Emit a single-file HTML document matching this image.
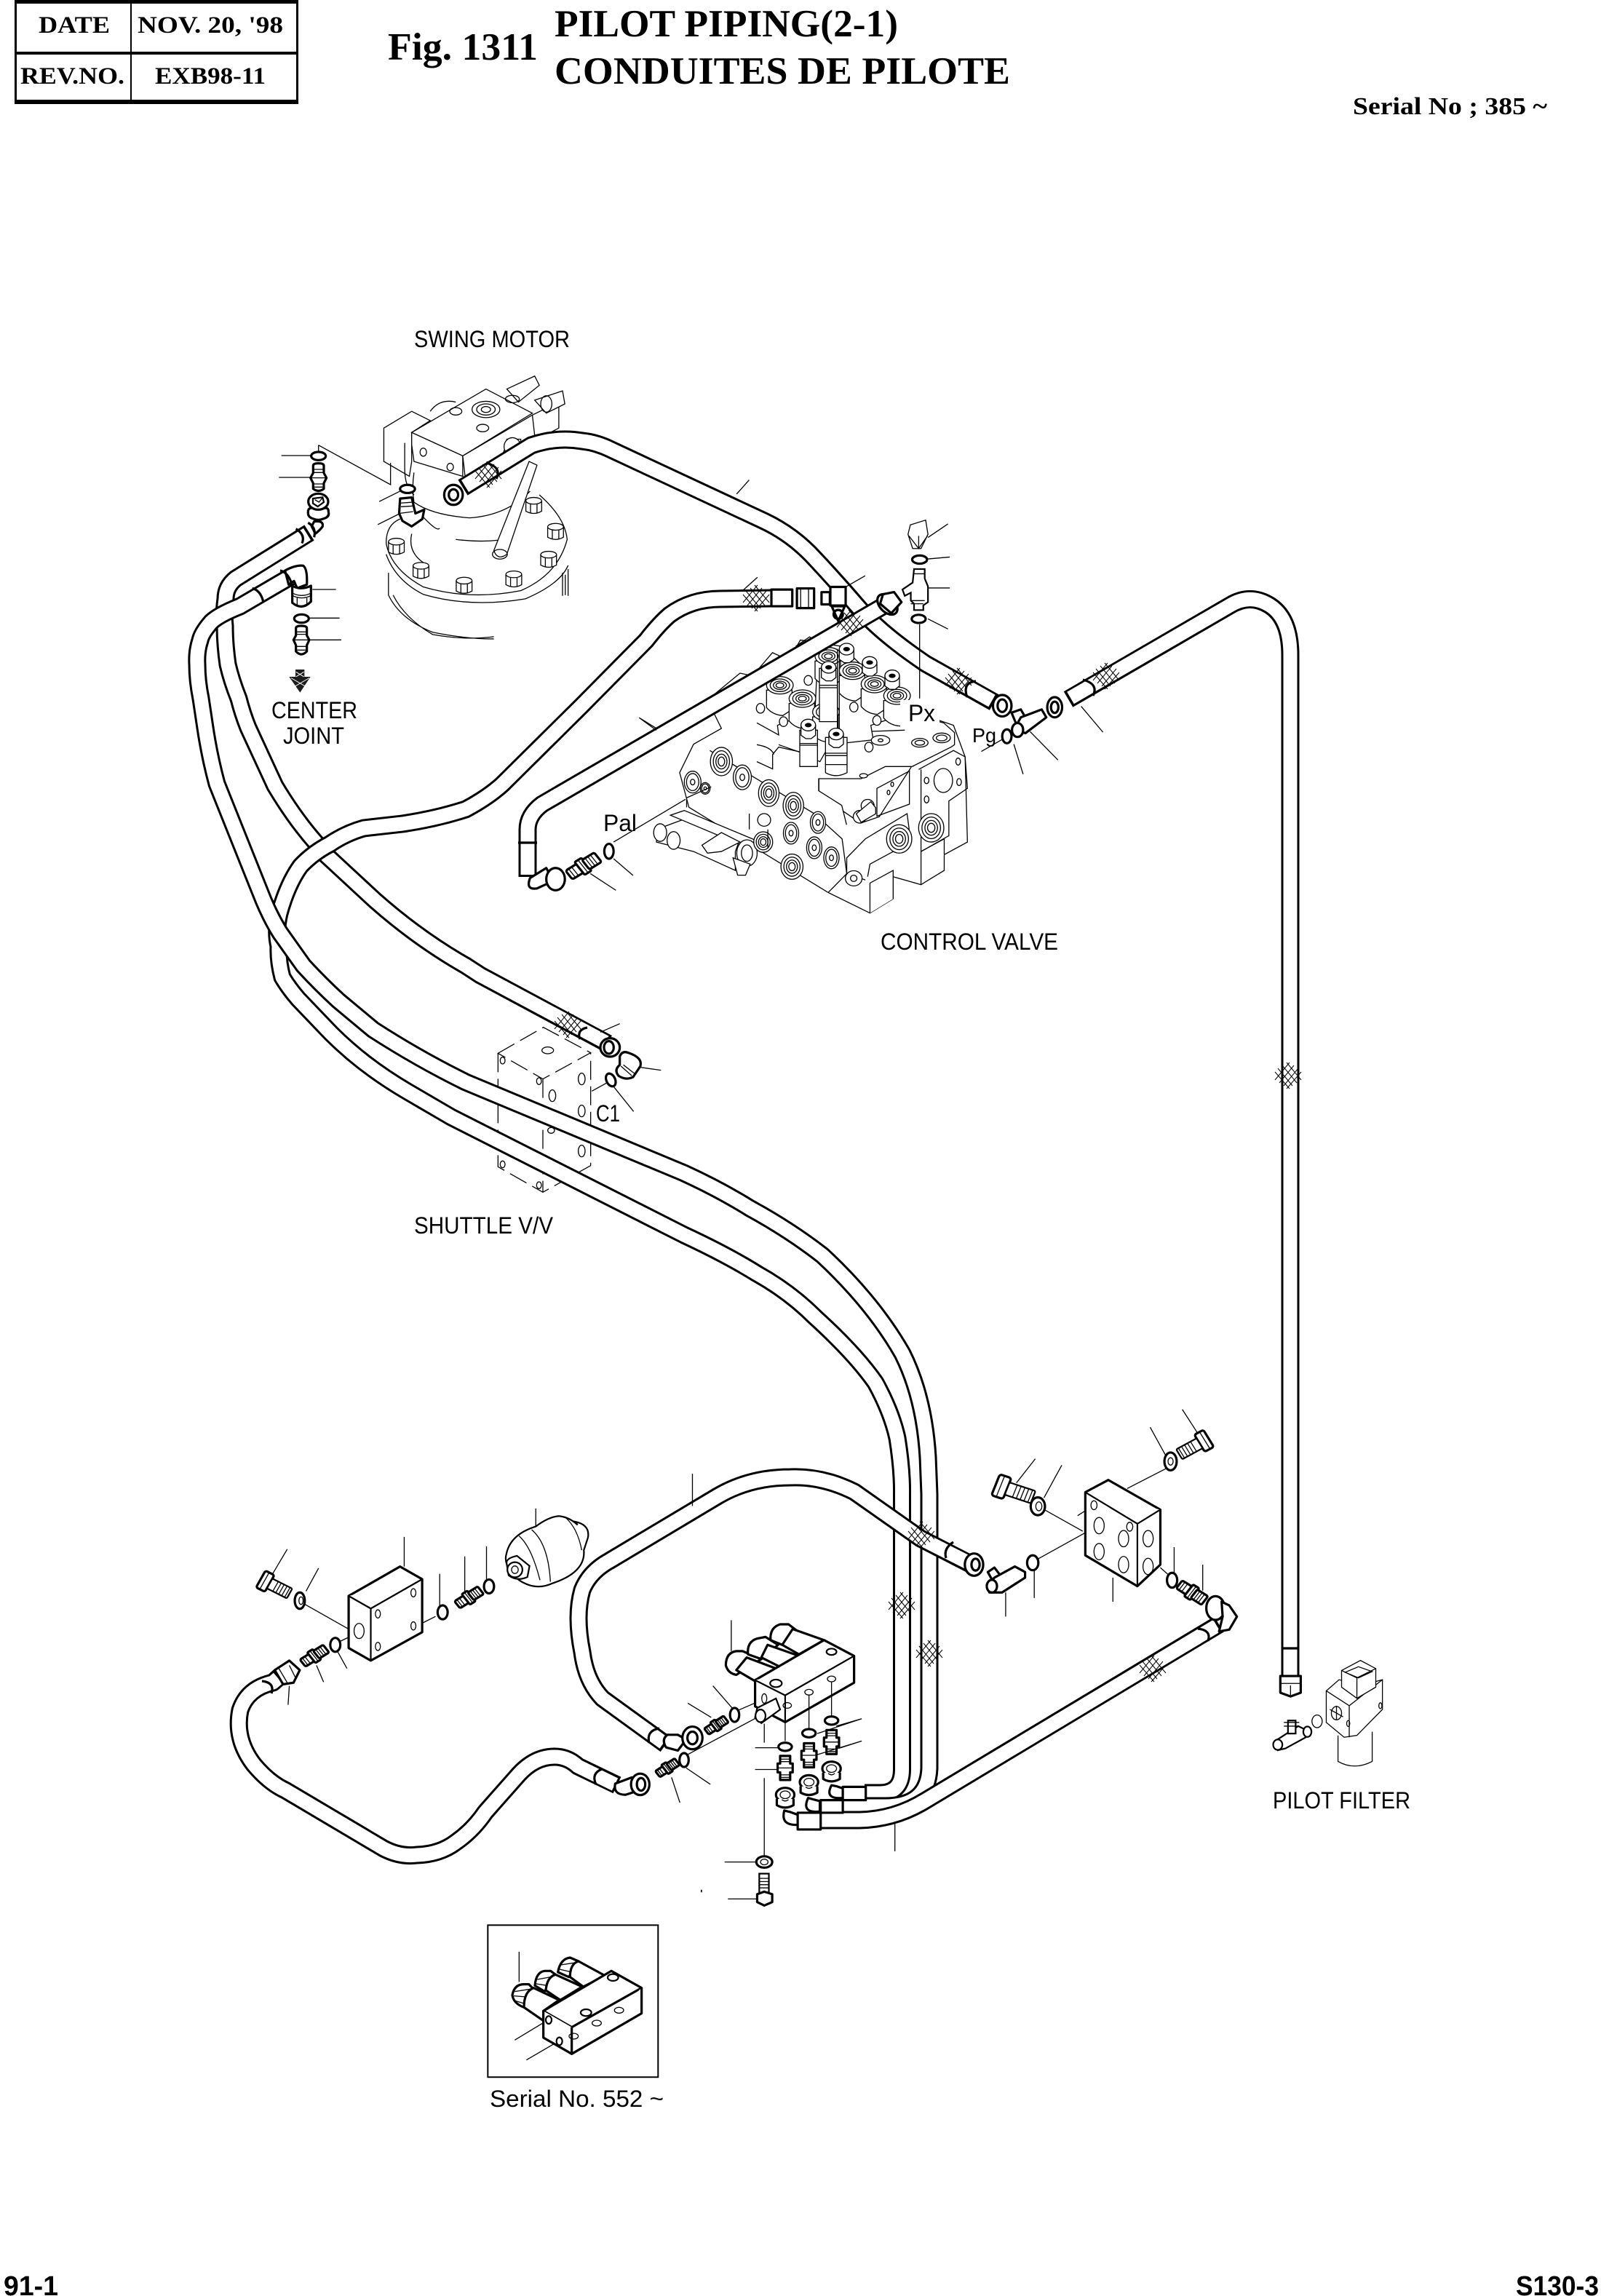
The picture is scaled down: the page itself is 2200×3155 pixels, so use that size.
<!DOCTYPE html>
<html><head><meta charset="utf-8"><title>Fig. 1311 Pilot Piping</title>
<style>
html,body{margin:0;padding:0;background:#fff}
svg{display:block}
svg *{vector-effect:non-scaling-stroke}
.t{fill:none;stroke:#000;stroke-width:1.3}
.tw{fill:#fff;stroke:#000;stroke-width:1.3}
.m{fill:#fff;stroke:#000;stroke-width:2.2}
.b{fill:#fff;stroke:#000;stroke-width:3.2;stroke-linejoin:round}
.bn{fill:none;stroke:#000;stroke-width:3.2;stroke-linejoin:round}
.ho{fill:none;stroke:#000;stroke-width:25;stroke-linejoin:round}
.hi{fill:none;stroke:#fff;stroke-width:19;stroke-linejoin:round}
.x{fill:none;stroke:#000;stroke-width:1}
.d{fill:none;stroke:#000;stroke-width:1.3;stroke-dasharray:26 9}
text{fill:#000}
.s{font-family:"Liberation Sans",sans-serif;font-size:32px}
.r{font-family:"Liberation Serif",serif;font-weight:bold}
.k{font-family:"Liberation Sans",sans-serif;font-weight:bold;font-size:38px}
</style></head><body>
<svg xmlns="http://www.w3.org/2000/svg" width="2200" height="3155" viewBox="0 0 2200 3155">
<defs>
<g id="hatch"><path class="x" d="M-14 -10L6 14M-8 -14L12 10M-2 -18L18 6M-18 -5L2 18M14 -10L-6 14M8 -14L-12 10M2 -18L-18 6M18 -5L-2 18"/></g>
<g id="bolt"><path class="tw" d="M-17 -14V14Q0 26 17 14V-14"/><ellipse class="tw" cy="-14" rx="17" ry="9"/><path class="t" d="M-7 -6V20M7 -6V20"/></g>
<g id="sol"><path class="tw" d="M-55 20V92Q-30 122 12 125L50 100V20Z"/><ellipse class="tw" rx="55" ry="36"/><ellipse class="t" rx="40" ry="26"/><ellipse class="t" rx="27" ry="17"/><ellipse class="t" rx="16" ry="10"/></g>
<g id="cap"><path class="tw" d="M-30 -14V28L-10 42H12L30 28V-14Z"/><ellipse class="tw" cy="-14" rx="30" ry="24"/><ellipse cy="-14" rx="14" ry="9"/></g>
<g id="port"><ellipse class="tw" rx="34" ry="50"/><ellipse class="t" rx="25" ry="38"/><ellipse class="t" rx="17" ry="26"/><ellipse class="t" rx="10" ry="16"/></g>
<g id="plug"><ellipse class="tw" rx="30" ry="46"/><ellipse class="t" rx="22" ry="36"/><ellipse class="t" rx="8" ry="12"/></g>
<g id="nip"><path class="b" d="M-12 -38H12V-14H18V14H12V38H-12V14H-18V-14H-12Z"/><path class="t" d="M-12 -28H12M-12 -20H12M-12 22H12M-12 30H12M-18 0H18"/></g>
<g id="nipr"><g transform="rotate(-35)"><rect class="b" x="-38" y="-13" width="30" height="26" rx="5"/><rect class="b" x="-10" y="-19" width="18" height="38" rx="3"/><rect class="b" x="6" y="-14" width="32" height="28" rx="4"/><path class="t" d="M14 -14V14M21 -14V14M28 -14V14M-30 -13V13M-22 -13V13M-1 -19V19"/></g></g>
<g id="bolt2"><rect class="b" x="-40" y="-24" width="24" height="48" rx="5"/><rect class="m" x="-16" y="-14" width="54" height="28" rx="3"/><path class="t" d="M-30 -24V24M0 -14V14M8 -14V14M16 -14V14M24 -14V14M32 -14V14"/></g>
<g id="nut"><ellipse class="b" rx="22" ry="20"/><ellipse class="t" rx="12" ry="11"/><path class="b" d="M-20 12V30Q0 44 20 30V12" /><path class="t" d="M-8 14Q0 22 8 14"/></g>
</defs>

<!-- ===== HEADER ===== -->
<rect x="20" y="0" width="390" height="5"/>
<rect x="20" y="71" width="390" height="4"/>
<rect x="20" y="137" width="390" height="6"/>
<rect x="20" y="0" width="3" height="143"/>
<rect x="407" y="0" width="3" height="143"/>
<rect x="179" y="0" width="2" height="143"/>
<text class="r" x="53" y="45" font-size="33" textLength="98" lengthAdjust="spacingAndGlyphs">DATE</text>
<text class="r" x="189" y="45" font-size="33" textLength="200" lengthAdjust="spacingAndGlyphs">NOV. 20, '98</text>
<text class="r" x="28" y="115" font-size="33" textLength="143" lengthAdjust="spacingAndGlyphs">REV.NO.</text>
<text class="r" x="213" y="115" font-size="33" textLength="152" lengthAdjust="spacingAndGlyphs">EXB98-11</text>
<text class="r" x="533" y="82" font-size="53" textLength="206" lengthAdjust="spacingAndGlyphs">Fig. 1311</text>
<text class="r" x="762" y="50" font-size="53" textLength="472" lengthAdjust="spacingAndGlyphs">PILOT PIPING(2-1)</text>
<text class="r" x="762" y="115" font-size="53" textLength="626" lengthAdjust="spacingAndGlyphs">CONDUITES DE PILOTE</text>
<text class="r" x="1859" y="157" font-size="34" textLength="267" lengthAdjust="spacingAndGlyphs">Serial No ; 385 ~</text>

<!-- ===== SWING MOTOR ===== -->
<g transform="translate(250 430) scale(.6378 .5102)">
<path class="t" d="M440 620Q450 690 520 738Q620 775 730 748Q810 705 830 610Q825 550 770 490"/>
<path class="t" d="M440 650Q460 720 520 758Q620 795 740 770Q815 730 832 680"/>
<path class="t" d="M440 620Q440 570 470 555"/>
<path class="t" d="M445 700V760Q470 825 540 860Q610 878 672 878M455 760Q480 822 540 866Q610 882 672 872"/>
<path class="t" d="M820 700V762M832 690V762M826 705V760"/>
<path class="t" d="M495 595Q485 650 530 680M590 610Q640 618 682 612M520 550Q550 590 555 580"/>
<path class="t" d="M500 510Q540 545 620 552Q700 545 750 480M500 430Q495 470 500 510"/>
<path class="tw" d="M435 310L495 265L535 290L495 322V400L490 440L435 400Z"/>
<path class="t" d="M535 265Q555 230 590 240M480 350V420Q480 470 500 490"/>
<path class="tw" d="M495 322L655 205L755 270L605 385Z"/>
<path class="tw" d="M495 322V355L500 400L605 440L605 385Z"/>
<path class="tw" d="M605 385L755 275L760 330L610 440Z"/>
<path class="t" d="M620 440Q690 430 700 340L730 340Q730 400 690 420M755 275L812 240V310L760 345"/>
<ellipse class="t" cx="520" cy="375" rx="7" ry="11"/><ellipse class="t" cx="578" cy="415" rx="7" ry="10"/>
<ellipse class="t" cx="590" cy="265" rx="13" ry="10"/><ellipse class="t" cx="648" cy="310" rx="13" ry="10"/>
<ellipse class="tw" cx="655" cy="260" rx="30" ry="22"/><ellipse class="t" cx="655" cy="260" rx="20" ry="15"/><ellipse class="t" cx="655" cy="260" rx="10" ry="8"/>
<ellipse class="tw" cx="712" cy="360" rx="18" ry="24"/>
<path class="tw" d="M700 205L760 170L770 195L725 240ZM760 235L820 210L825 245L785 270Z"/>
<ellipse class="t" cx="712" cy="232" rx="15" ry="10"/><ellipse class="t" cx="785" cy="245" rx="12" ry="22"/>
<path class="tw" d="M748 400L672 640Q680 668 700 650L765 410Z"/><ellipse class="t" cx="685" cy="650" rx="16" ry="13"/>
<use href="#bolt" transform="translate(758 520)"/>
<use href="#bolt" transform="translate(805 590)"/>
<use href="#bolt" transform="translate(790 665)"/>
<use href="#bolt" transform="translate(715 718)"/>
<use href="#bolt" transform="translate(608 735)"/>
<use href="#bolt" transform="translate(515 695)"/>
<use href="#bolt" transform="translate(462 630)"/>
<path class="t" d="M425 508L470 480M422 570L470 540"/>
</g>

<!-- ===== CONTROL VALVE ===== -->
<g transform="translate(800 680) scale(.6378 .4337)">
<path class="tw" d="M270 650L340 565L420 590L470 460L560 480L700 680L800 730L825 830L830 1100L780 1140V1190L730 1235L670 1210V1280L620 1325L530 1260L230 990L210 880L240 790L300 740Z"/>
<path class="tw" d="M730 1235V1130L780 1090V1140"/>
<path class="tw" d="M620 1325V1230L670 1190V1280"/>
<path class="t" d="M530 1260L570 1200L610 1220M570 1200V1150L610 1090L700 1010L708 1100L620 1170L615 1210"/>
<path class="t" d="M275 810L500 1010L560 1090L570 1200M510 870L510 950L570 1010L600 1040L640 1020L710 860L640 800L510 870"/>
<path class="t" d="M725 870L800 810L825 830L830 930L790 970V1080L730 1130V870M640 800L715 860"/>
<ellipse class="t" cx="778" cy="905" rx="20" ry="38"/>
<ellipse class="t" cx="742" cy="905" rx="5" ry="10"/><ellipse class="t" cx="812" cy="910" rx="5" ry="11"/><ellipse class="t" cx="810" cy="845" rx="5" ry="11"/><ellipse class="t" cx="742" cy="965" rx="5" ry="11"/>
<ellipse class="t" cx="668" cy="917" rx="3" ry="7"/><ellipse class="t" cx="660" cy="943" rx="3" ry="7"/>
<path class="t" d="M635 930L705 875V980L635 1018Z"/>
<use href="#port" transform="translate(300 845) scale(.7 .9)"/>
<use href="#plug" transform="translate(345 895) scale(.65 .85)"/>
<use href="#port" transform="translate(402 945) scale(.65 .85)"/>
<use href="#port" transform="translate(455 985) scale(.65 .85)"/>
<use href="#plug" transform="translate(508 1038) scale(.55 .75)"/>
<use href="#plug" transform="translate(450 1072) scale(.55 .75)"/>
<use href="#plug" transform="translate(500 1118) scale(.55 .75)"/>
<use href="#plug" transform="translate(537 1150) scale(.55 .75)"/>
<use href="#port" transform="translate(452 1178) scale(.7 .8)"/>
<use href="#port" transform="translate(683 1090) scale(.8 .9)"/>
<use href="#port" transform="translate(752 1055) scale(.8 .9)"/>
<use href="#plug" transform="translate(238 910) scale(.6 .75)"/>
<use href="#plug" transform="translate(265 930) scale(.35 .4)"/>
<path class="t" d="M225 965V990M225 960L278 925"/>
<path class="tw" d="M215 1030L160 1060V1100L240 1130L330 1190V1130L340 1090L300 1060Z" />
<path class="tw" d="M190 1015L360 1120L375 1095L220 1000Z"/>
<ellipse class="tw" cx="168" cy="1070" rx="14" ry="28"/><ellipse class="tw" cx="197" cy="1095" rx="14" ry="28"/>
<path class="tw" d="M258 1110L300 1070L340 1100L300 1130L270 1135Z"/>
<ellipse class="tw" cx="355" cy="1135" rx="22" ry="42"/><ellipse class="t" cx="355" cy="1135" rx="12" ry="26"/>
<path class="tw" d="M325 1150L335 1205L352 1205L362 1170Z"/>
<use href="#port" transform="translate(390 1100) scale(.6 .65)"/>
<ellipse class="tw" cx="392" cy="1030" rx="14" ry="20"/>
<path class="t" d="M360 1010V1060M400 1060V1120"/>
<ellipse class="tw" cx="598" cy="1020" rx="14" ry="20"/><ellipse class="tw" cx="615" cy="985" rx="14" ry="20"/>
<ellipse class="tw" cx="585" cy="1215" rx="18" ry="24"/><ellipse class="t" cx="585" cy="1215" rx="7" ry="10"/>
<path class="t" d="M375 560L410 500L425 510L395 555M460 480L490 450L500 460"/>
</g>
<g transform="translate(1040 880) scale(.3333)">
<path class="tw" d="M0 500L65 530V470L90 440L180 460L260 500L300 430L480 410L470 350L620 300L770 340L815 380L815 430L800 440L640 520L530 520L430 570L255 570V620L350 680L370 760"/>
<path class="t" d="M0 340L90 390L85 350L240 290L250 80L300 50L380 100L520 240M475 375L610 370M0 430Q60 440 70 470M90 430L175 460"/>
<use href="#sol" transform="translate(295 65)"/>
<use href="#sol" transform="translate(395 125)"/>
<use href="#sol" transform="translate(485 180)"/>
<use href="#sol" transform="translate(578 228)"/>
<use href="#sol" transform="translate(95 185)"/>
<use href="#sol" transform="translate(188 240)"/>
<use href="#sol" transform="translate(285 295)"/>
<use href="#cap" transform="translate(370 50)"/>
<use href="#cap" transform="translate(465 105)"/>
<use href="#cap" transform="translate(558 160)"/>
<path class="tw" d="M258 115V335H332V115Z"/>
<use href="#cap" transform="translate(296 125)"/>
<path class="t" d="M258 185H332M258 195H332M332 35V370M340 35V370"/>
<path class="tw" d="M177 370V520H250V370Z"/><use href="#cap" transform="translate(212 363)"/>
<path class="t" d="M177 425H250M177 432H250"/>
<path class="tw" d="M283 400V545Q325 570 372 545V400Z"/><use href="#cap" transform="translate(327 400)"/>
<path class="t" d="M283 465H372M283 475H372M283 512H372"/>
<ellipse class="tw" cx="510" cy="412" rx="38" ry="20"/><ellipse class="t" cx="510" cy="412" rx="10" ry="6"/>
<ellipse class="tw" cx="672" cy="422" rx="34" ry="18"/><ellipse class="t" cx="672" cy="422" rx="20" ry="10"/>
<ellipse class="tw" cx="762" cy="402" rx="36" ry="20"/><ellipse class="t" cx="762" cy="402" rx="22" ry="12"/>
<ellipse class="tw" cx="110" cy="335" rx="17" ry="20"/><ellipse class="tw" cx="212" cy="165" rx="17" ry="20"/>
<ellipse class="tw" cx="400" cy="275" rx="17" ry="20"/><ellipse class="tw" cx="495" cy="330" rx="17" ry="20"/>
<ellipse class="tw" cx="462" cy="440" rx="17" ry="20"/><ellipse class="tw" cx="15" cy="280" rx="17" ry="20"/>
<ellipse class="tw" cx="440" cy="558" rx="16" ry="9"/>
<path class="tw" d="M410 715L470 665L490 690V715L430 750Z"/>
</g>
<rect x="1237" y="962" width="54" height="40" fill="#fff"/>

<!-- ===== SHUTTLE V/V (dashed) ===== -->
<g transform="translate(620 1340) scale(.3333)">
<path class="d" d="M193 322L380 215L575 320L378 428ZM193 322V790L378 895L575 785V320M378 428V895"/>
<ellipse class="t" cx="398" cy="310" rx="24" ry="14"/>
<ellipse class="t" cx="212" cy="352" rx="10" ry="14"/><ellipse class="t" cx="362" cy="437" rx="10" ry="14"/>
<ellipse class="t" cx="538" cy="428" rx="14" ry="24"/><ellipse class="t" cx="417" cy="497" rx="14" ry="24"/>
<ellipse class="t" cx="538" cy="560" rx="14" ry="24"/><ellipse class="t" cx="538" cy="725" rx="14" ry="24"/>
<ellipse class="t" cx="412" cy="640" rx="14" ry="12"/>
<ellipse class="t" cx="212" cy="780" rx="10" ry="14"/><ellipse class="t" cx="362" cy="866" rx="10" ry="14"/>
</g>

<!-- ===== HOSES ===== -->
<g id="hoses">
<path class="ho" d="M425 732L324 795Q310 806 310 823Q307 845 309 860Q309 885 313 913Q318 935 328 960Q333 980 341 1000L378 1080Q405 1125 434 1158Q440 1165 447 1174L515 1237Q575 1290 640 1327L660 1340L835 1434"/>
<path class="hi" d="M422 734L324 795Q310 806 310 823Q307 845 309 860Q309 885 313 913Q318 935 328 960Q333 980 341 1000L378 1080Q405 1125 434 1158Q440 1165 447 1174L515 1237Q575 1290 640 1327L660 1340L832 1432"/>
<path class="ho" d="M1060 822L990 823Q950 823 920 845Q905 858 888 880L798 971L690 1078Q670 1096 640 1112Q600 1125 553 1132L500 1138Q475 1145 453 1160Q430 1172 413 1190Q395 1215 384 1255Q378 1280 383 1300Q382 1320 388 1343Q397 1358 410 1373L455 1420Q500 1465 560 1500L620 1535L940 1697Q1000 1725 1040 1750Q1085 1775 1120 1810Q1175 1860 1203 1900Q1225 1940 1233 1976Q1240 2020 1239.5 2053L1239.5 2430Q1240 2464 1209 2464L1188 2464"/>
<path class="hi" d="M1060 822L990 823Q950 823 920 845Q905 858 888 880L798 971L690 1078Q670 1096 640 1112Q600 1125 553 1132L500 1138Q475 1145 453 1160Q430 1172 413 1190Q395 1215 384 1255Q378 1280 383 1300Q382 1320 388 1343Q397 1358 410 1373L455 1420Q500 1465 560 1500L620 1535L940 1697Q1000 1725 1040 1750Q1085 1775 1120 1810Q1175 1860 1203 1900Q1225 1940 1233 1976Q1240 2020 1239.5 2053L1239.5 2430Q1240 2464 1209 2464L1188 2464"/>
<path class="ho" d="M400 792L330 833Q300 845 290 855Q277 870 275 880Q270 895 271 913Q271 935 276 960L282 1000Q288 1040 298 1077L358 1227Q370 1258 385 1282L417 1327Q440 1352 465 1375L513 1415Q575 1455 640 1487L940 1612Q990 1635 1030 1660Q1085 1690 1130 1725Q1200 1790 1240 1860Q1270 1920 1275 2002L1277 2053L1277 2430Q1275 2482 1216 2482L1160 2482"/>
<path class="hi" d="M400 792L330 833Q300 845 290 855Q277 870 275 880Q270 895 271 913Q271 935 276 960L282 1000Q288 1040 298 1077L358 1227Q370 1258 385 1282L417 1327Q440 1352 465 1375L513 1415Q575 1455 640 1487L940 1612Q990 1635 1030 1660Q1085 1690 1130 1725Q1200 1790 1240 1860Q1270 1920 1275 2002L1277 2053L1277 2430Q1275 2482 1216 2482L1160 2482"/>
<path class="ho" d="M636 670L730 612Q765 600 800 606Q820 608 840 618L1050 716Q1090 735 1120 768Q1150 800 1180 835Q1210 870 1272 912L1366 965"/>
<path class="hi" d="M639 668L730 612Q765 600 800 606Q820 608 840 618L1050 716Q1090 735 1120 768Q1150 800 1180 835Q1210 870 1272 912L1363 963"/>
<path class="ho" d="M1215 832L745 1105Q725 1120 725 1140L725 1205"/>
<path class="hi" d="M1215 832L745 1105Q725 1120 725 1140L725 1202"/>
<path class="ho" d="M1468 961L1690 832Q1718 815 1745 832Q1773 850 1773 900L1773 2305"/>
<path class="hi" d="M1471 959L1690 832Q1718 815 1745 832Q1773 850 1773 900L1773 2305"/>
<path class="ho" d="M1128 2501L1181 2501Q1230 2500 1272 2474L1675 2232"/>
<path class="hi" d="M1128 2501L1181 2501Q1230 2500 1272 2474L1672 2234"/>
<path class="ho" d="M915 2397L828 2334Q805 2310 800 2270Q790 2220 800 2185Q810 2160 837 2145L986 2056Q1030 2030 1086 2030Q1130 2028 1174 2050L1265 2114L1335 2150"/>
<path class="hi" d="M912 2395L828 2334Q805 2310 800 2270Q790 2220 800 2185Q810 2160 837 2145L986 2056Q1030 2030 1086 2030Q1130 2028 1174 2050L1265 2114L1332 2148"/>
<path class="ho" d="M385 2303L375 2312Q340 2320 330 2350Q322 2390 349 2425Q370 2450 392 2460L527 2540Q550 2552 573 2549Q605 2548 627 2531Q650 2515 667 2490L713 2438Q735 2414 762 2414Q780 2414 794 2427L848 2453"/>
<path class="hi" d="M382 2306L375 2312Q340 2320 330 2350Q322 2390 349 2425Q370 2450 392 2460L527 2540Q550 2552 573 2549Q605 2548 627 2531Q650 2515 667 2490L713 2438Q735 2414 762 2414Q780 2414 794 2427L845 2452"/>
</g>
<!-- hatches -->
<use href="#hatch" transform="translate(1317 936)"/><use href="#hatch" transform="translate(671 652)"/>
<use href="#hatch" transform="translate(1039 822)"/><use href="#hatch" transform="translate(1168 856)"/>
<use href="#hatch" transform="translate(1520 929)"/><use href="#hatch" transform="translate(780 1408)"/>
<use href="#hatch" transform="translate(1239 2206)"/><use href="#hatch" transform="translate(1277 2272)"/>
<use href="#hatch" transform="translate(1266 2109)"/><use href="#hatch" transform="translate(1584 2293)"/>
<use href="#hatch" transform="translate(1770 1478)"/>

<!-- sleeve arcs -->
<g class="bn">
<path class="bn" d="M668 636Q690 642 682 658"/>
<path class="bn" d="M1341 936Q1322 938 1329 958"/>
<path class="bn" d="M1488 934Q1510 940 1502 956"/>
<path class="bn" d="M1761 2265H1785"/>
<path class="bn" d="M807 1412Q792 1415 797 1428"/>
<path class="bn" d="M712 1158H738"/>
<path class="bn" d="M906 2375Q888 2378 892 2395"/>
<path class="bn" d="M1310 2119Q1296 2128 1300 2141"/>
<path class="bn" d="M360 2310Q378 2312 373 2327"/>
<path class="bn" d="M827 2431Q812 2437 819 2452"/>
<path class="bn" d="M1646 2238Q1665 2240 1660 2255"/>
</g>

<!-- ===== CENTER JOINT / UPPER-LEFT FITTINGS ===== -->
<g transform="translate(250 560) scale(.3333)">
<path class="t" d="M410 198H530M400 288H530M563 155V185M563 155L860 318V228M538 750H635M525 868H650M525 958H657"/>
<ellipse class="b" cx="563" cy="200" rx="30" ry="17"/>
<path class="b" d="M541 240Q541 230 563 230Q585 230 585 240V270L596 290L585 312V335Q563 352 541 335V312L530 290L541 270Z"/>
<path class="t" d="M541 255H585M541 268H585M530 290H596M541 315H585M541 328H585"/>
<path class="b" d="M520 430Q520 410 545 415H585Q605 410 604 430Q610 450 585 458Q562 468 540 458Q518 452 520 430Z"/>
<ellipse class="b" cx="562" cy="388" rx="41" ry="33"/>
<path class="m" d="M540 375L580 370L585 390L560 408L540 395Z"/>
<path class="t" d="M548 380L565 390L578 374"/>
<path class="b" d="M545 470Q585 465 580 490Q570 505 550 520L535 490Z"/>
<path class="bn" d="M470 500Q510 525 495 560"/>
<path class="bn" d="M520 475Q555 495 545 535"/>
<path class="b" d="M425 672Q470 648 500 652Q518 665 515 730L475 745L462 715L440 730Z"/>
<path class="bn" d="M290 745Q325 755 335 800"/>
<path class="bn" d="M405 672Q440 680 455 735"/>
<path class="b" d="M455 735Q490 755 532 735V800Q495 838 455 805Z"/>
<path class="t" d="M455 765Q495 785 532 765M455 775Q495 795 532 775M475 785V815M515 785V815"/>
<ellipse class="b" cx="493" cy="870" rx="30" ry="17"/>
<path class="b" d="M470 910Q470 900 492 900Q515 900 515 910V940L525 958L515 980V1005Q492 1030 470 1005V980L460 958L470 940Z"/>
<path class="t" d="M470 925H515M470 935H515M460 958H525M470 985H515M470 1000H515"/>
<path d="M468 1080H505V1110H530L487 1175L442 1110H468Z" fill="#1c1c1c"/>
<path d="M470 1090L503 1110M503 1090L470 1110M450 1115L510 1150M525 1115L465 1150" stroke="#fff" stroke-width="1" fill="none"/>
</g>

<!-- ===== Z2 FITTINGS ===== -->
<g transform="translate(250 430) scale(.6378 .5102)">
<ellipse class="b" cx="486" cy="474" rx="16" ry="11"/>
<path class="b" d="M470 500L495 497L503 540L522 530L518 555L495 575L475 560L468 540Z"/>
<path class="t" d="M472 512L495 510M472 522L497 520M468 540L498 535"/>
<ellipse class="b" cx="585" cy="490" rx="20" ry="27"/><ellipse class="bn" cx="585" cy="490" rx="10" ry="15"/>
<path class="b" d="M1270 745H1315V790H1270Z"/>
<path class="b" d="M1325 742H1362V795H1325Z"/><path class="t" d="M1333 742V795M1350 742V795"/>
<path class="b" d="M1378 752H1396V785H1378Z"/>
<path class="b" d="M1397 738H1430V788H1397Z"/>
<path class="b" d="M1400 790H1428L1414 830Z"/>
<ellipse class="bn" cx="1414" cy="812" rx="10" ry="12"/>
<path class="t" d="M1208 748L1240 712M1430 738L1472 708M1195 488L1222 450M985 1090L1022 1124"/>
<ellipse class="b" cx="1520" cy="785" rx="18" ry="30" transform="rotate(-30 1520 785)"/>
<path class="b" d="M750 1522Q740 1555 765 1550L800 1530L785 1495Z"/>
<ellipse class="b" cx="805" cy="1525" rx="20" ry="30"/>
<use href="#nipr" transform="translate(865 1490) scale(1 1.1)"/>
<ellipse class="b" cx="920" cy="1450" rx="10" ry="20"/>
<path class="t" d="M880 1510L935 1555M930 1470L972 1515M930 1425L1085 1310"/>
</g>

<!-- ===== Z3 FITTINGS ===== -->
<g transform="translate(800 680) scale(.6378 .4337)">
<path class="tw" d="M707 95L740 80L745 125L730 170L712 170L702 125Z"/><path class="t" d="M704 130L725 170L744 130M725 130V170"/>
<ellipse class="b" cx="727" cy="205" rx="16" ry="13"/>
<path class="m" d="M715 235H738V265L745 290V340L735 350V365H715V345L708 335V310L695 320L690 300L712 278Z"/>
<path class="t" d="M715 250H738M708 335H738M708 345H735"/>
<ellipse class="b" cx="725" cy="393" rx="15" ry="13"/>
<path class="t" d="M745 135L788 92M745 203L792 197M745 295L792 295M745 393L788 425M727 410V645"/>
<ellipse class="b" cx="905" cy="668" rx="20" ry="34"/><ellipse class="bn" cx="905" cy="668" rx="10" ry="20"/>
<path class="b" d="M648 315L672 308L688 340L666 375L642 345Z"/>
<path class="b" d="M925 690L945 680L955 705L935 725Z"/>
<path class="b" d="M945 705L990 680L1000 705L955 755L930 745Z"/>
<ellipse class="b" cx="938" cy="745" rx="12" ry="22"/>
<ellipse class="b" cx="915" cy="765" rx="10" ry="22"/>
<ellipse class="b" cx="1018" cy="673" rx="16" ry="32"/><ellipse class="bn" cx="1018" cy="673" rx="8" ry="18"/>
<path class="t" d="M860 813L905 775M930 790L950 885M965 750L1025 840M1075 670L1122 752M125 708L160 740"/>
</g>

<!-- ===== Z7 shuttle fittings ===== -->
<g transform="translate(620 1340) scale(.3333)">
<ellipse class="b" cx="655" cy="298" rx="40" ry="38"/><ellipse class="bn" cx="650" cy="298" rx="20" ry="26"/>
<path class="b" d="M695 335Q705 310 730 320Q790 340 780 375L750 420Q720 435 690 415Q670 390 695 370Z"/>
<path class="t" d="M700 375L745 415M710 370L755 405M780 380L865 392M615 235L695 200"/>
<ellipse class="b" cx="658" cy="432" rx="18" ry="28" transform="rotate(-25 658 432)"/>
<path class="t" d="M580 478L640 445M670 460L752 562"/>
</g>

<!-- ===== Z4 LOWER LEFT ===== -->
<g transform="translate(300 2000) scale(.574 .4337)">
<path class="t" d="M165 297L130 375M240 357L210 430M205 470L312 550M445 258V352M490 530L520 510M290 590L337 560M530 375V480M590 320V430M642 288V395M760 168V225M167 790L170 730M252 718L235 665M308 675L285 620M1135 58V160M1228 522V620M1124 785L1180 830M1184 730L1230 800M1240 810L1310 770M1120 950L1290 830M1307 850V910M1120 990L1178 1042M1085 1020L1105 1100M1357 845V905M1285 926H1340M1285 995H1340M1307 1022V1270M1212 1288H1290M1220 1405H1290"/>
<use href="#bolt2" transform="translate(137 415) scale(1 1.25) rotate(28)"/>
<ellipse class="b" cx="195" cy="460" rx="12" ry="26" stroke-width="2"/><ellipse class="t" cx="198" cy="460" rx="5" ry="12"/>
<path class="b" d="M312 445L435 352L488 392V560L365 650L312 610Z"/>
<path class="m" d="M312 445L365 485L488 392M365 485V650"/>
<ellipse class="t" cx="337" cy="556" rx="12" ry="24"/>
<ellipse class="t" cx="382" cy="502" rx="6" ry="13"/><ellipse class="t" cx="467" cy="435" rx="6" ry="13"/>
<ellipse class="t" cx="467" cy="540" rx="6" ry="13"/><ellipse class="t" cx="382" cy="605" rx="6" ry="13"/>
<ellipse class="b" cx="537" cy="497" rx="12" ry="22"/>
<use href="#nipr" transform="translate(600 450) scale(.9 1.05)"/>
<ellipse class="b" cx="648" cy="415" rx="12" ry="22"/>
<!-- accumulator -->
<path class="m" d="M855 210Q890 220 885 260L875 300Q880 370 800 405Q760 430 720 395Q680 350 690 310Q700 250 760 225Q790 195 815 192Q840 195 860 220Z"/>
<path class="t" d="M720 255Q750 290 770 395M750 235Q790 280 795 400M830 195Q860 230 870 300"/>
<path class="m" d="M690 340Q690 325 715 318L745 350L740 385Q715 400 695 380Z"/>
<ellipse class="m" cx="710" cy="362" rx="18" ry="24"/><ellipse class="t" cx="710" cy="362" rx="8" ry="12"/>
<ellipse class="b" cx="280" cy="600" rx="12" ry="22"/>
<use href="#nipr" transform="translate(230 635) scale(.9 1.05)"/>
<path class="b" d="M135 680L170 650L195 680L180 720L155 725Z"/><path class="t" d="M145 675L165 720M170 665L185 705"/>
<!-- solenoid manifold -->
<path class="b" d="M1240 620Q1215 625 1215 665Q1220 690 1240 695L1300 645L1255 620Z"/>
<path class="b" d="M1240 680L1265 640L1335 675L1285 715Z"/>
<path class="b" d="M1290 580Q1265 590 1268 630L1300 645L1340 600L1310 575Z"/>
<path class="b" d="M1300 640L1315 600L1390 635L1345 670Z"/>
<path class="b" d="M1345 535Q1320 545 1322 585L1350 600L1385 555L1365 535Z"/>
<path class="b" d="M1350 600L1375 550L1450 585L1390 630Z"/>
<path class="b" d="M1285 712L1450 585L1522 635V720L1357 845L1285 795Z"/>
<path class="m" d="M1285 712L1357 760L1522 635M1357 760V845"/>
<ellipse class="m" cx="1335" cy="722" rx="14" ry="12"/><ellipse class="m" cx="1468" cy="622" rx="12" ry="10"/>
<ellipse class="t" cx="1362" cy="792" rx="10" ry="9"/><ellipse class="t" cx="1414" cy="750" rx="10" ry="9"/><ellipse class="t" cx="1468" cy="708" rx="10" ry="9"/>
<path class="t" d="M1414 760V870M1468 718V825"/>
<path class="m" d="M1290 800L1335 770L1345 805L1300 848L1285 830Z"/>
<ellipse class="m" cx="1298" cy="825" rx="12" ry="20"/><ellipse class="t" cx="1307" cy="770" rx="6" ry="15"/>
<!-- K end fitting -->
<path class="b" d="M1075 885Q1060 900 1072 925L1100 935L1120 900L1100 885Z"/>
<ellipse class="b" cx="1135" cy="895" rx="24" ry="36"/><ellipse class="bn" cx="1135" cy="895" rx="12" ry="20"/>
<use href="#nipr" transform="translate(1192 855) scale(.75 .9)"/>
<ellipse class="b" cx="1236" cy="822" rx="11" ry="22"/>
<!-- L end fitting -->
<path class="b" d="M950 1040Q945 1075 975 1075L1010 1060L990 1020Z"/>
<ellipse class="b" cx="1010" cy="1042" rx="22" ry="34"/><ellipse class="bn" cx="1012" cy="1042" rx="10" ry="20"/>
<use href="#nipr" transform="translate(1075 990) scale(.75 .9)"/>
<ellipse class="b" cx="1115" cy="965" rx="11" ry="22"/>
<!-- lower fittings stacks -->
<ellipse class="b" cx="1357" cy="923" rx="16" ry="13"/>
<ellipse class="b" cx="1414" cy="880" rx="16" ry="13"/>
<ellipse class="b" cx="1468" cy="840" rx="16" ry="13"/>
<use href="#nip" transform="translate(1357 990)"/>
<use href="#nip" transform="translate(1414 950)"/>
<use href="#nip" transform="translate(1468 908)"/>
<use href="#nut" transform="translate(1357 1075) scale(1 1.1)"/>
<use href="#nut" transform="translate(1414 1035) scale(1 1.1)"/>
<use href="#nut" transform="translate(1468 992) scale(1 1.1)"/>
<path class="b" d="M1355 1125Q1345 1175 1390 1170V1140L1370 1130Z"/>
<path class="b" d="M1412 1085Q1395 1135 1440 1128V1095L1425 1090Z"/>
<path class="b" d="M1468 1045Q1450 1090 1495 1085V1055L1480 1048Z"/>
<path class="b" d="M1387 1132H1442V1185H1387Z"/>
<path class="b" d="M1442 1092H1495V1132H1442Z"/>
<path class="b" d="M1495 1050H1550V1092H1495Z"/>
<!-- bottom bolt -->
<ellipse class="b" cx="1307" cy="1288" rx="19" ry="18"/><ellipse class="t" cx="1307" cy="1288" rx="9" ry="9"/>
<path class="m" d="M1295 1325H1318V1385H1295Z"/><path class="t" d="M1295 1340H1318M1295 1350H1318M1295 1360H1318M1295 1370H1318"/>
<path class="b" d="M1290 1390L1307 1382L1326 1390V1415L1307 1426L1290 1415Z"/>
<rect x="1155" y="1376" width="3" height="8"/>
</g>

<!-- ===== Z5 RIGHT ===== -->
<g transform="translate(900 1900) scale(.7015 .5102)">
<path class="t" d="M745 205L708 270M797 222L762 310M760 340L838 400M750 475L868 385M828 358L860 330M1033 72L1065 140M970 120L1000 195M1010 225L925 285M897 525V590M1017 443V515M1073 490V560M743 505V580M687 565V630M990 498L1008 520M470 1182V1262M405 905L355 925M405 905L318 945M405 965L360 985M405 965L315 1003"/>
<use href="#bolt2" transform="translate(705 292) scale(1 1.25) rotate(20)"/>
<ellipse class="b" cx="750" cy="333" rx="14" ry="24" stroke-width="2"/><ellipse class="t" cx="752" cy="333" rx="6" ry="12"/>
<use href="#bolt2" transform="translate(1055 172) scale(.85 1.1) rotate(150)"/>
<ellipse class="b" cx="1010" cy="212" rx="12" ry="24" stroke-width="2"/><ellipse class="t" cx="1010" cy="212" rx="5" ry="10"/>
<path class="b" d="M843 295L888 262L990 342V490L945 548L843 465Z"/>
<path class="m" d="M843 295L945 380L990 342M945 380V548" stroke-width="1.5"/>
<ellipse class="t" cx="860" cy="330" rx="6" ry="12"/><ellipse class="t" cx="870" cy="385" rx="10" ry="22"/>
<ellipse class="t" cx="870" cy="455" rx="10" ry="22"/><ellipse class="t" cx="918" cy="420" rx="10" ry="22"/>
<ellipse class="t" cx="918" cy="490" rx="10" ry="22"/><ellipse class="t" cx="966" cy="420" rx="10" ry="22"/>
<ellipse class="t" cx="966" cy="495" rx="10" ry="22"/><ellipse class="t" cx="930" cy="388" rx="6" ry="12"/>
<ellipse class="b" cx="625" cy="490" rx="18" ry="30"/><ellipse class="bn" cx="628" cy="490" rx="8" ry="16"/>
<path class="b" d="M652 510L665 498L680 525L662 535Z"/>
<path class="b" d="M665 525L705 495L725 510V525L680 565L655 565L650 545Z"/>
<ellipse class="b" cx="660" cy="548" rx="10" ry="17"/>
<ellipse class="b" cx="740" cy="485" rx="11" ry="20"/>
<ellipse class="b" cx="1013" cy="532" rx="10" ry="20"/>
<g transform="translate(1052 565) scale(.8 1) rotate(70)"><use href="#nipr"/></g>
<ellipse class="b" cx="1098" cy="607" rx="18" ry="32"/>
<path class="b" d="M1110 590L1125 600L1140 630L1125 665L1105 670L1112 630Z"/>
<!-- J lower nut -->
<path class="b" d="M1225 790H1265V835L1245 845L1225 835Z"/>
<path class="t" d="M1225 810H1265M1245 815V845"/>
<!-- pilot filter -->
<path class="tw" d="M1338 950V1020Q1370 1045 1405 1020V940"/>
<path class="tw" d="M1315 830L1340 800L1385 815L1425 800V880L1375 950L1350 955L1315 915Z"/>
<path class="t" d="M1315 830L1360 870V955M1360 870L1425 800"/>
<path class="tw" d="M1345 775L1382 748L1412 770V820L1375 850L1345 820Z"/><path class="t" d="M1345 775L1375 795V850M1375 795L1412 770M1352 780L1378 765L1405 778L1378 795Z"/>
<ellipse class="t" cx="1335" cy="890" rx="10" ry="18"/><path class="t" d="M1322 880L1348 900M1335 870V908"/>
<ellipse class="t" cx="1358" cy="918" rx="3" ry="8"/><ellipse class="t" cx="1421" cy="870" rx="3" ry="8"/>
<ellipse class="t" cx="1297" cy="912" rx="10" ry="17"/>
<path class="m" d="M1215 965L1260 925L1275 935V955L1235 985L1220 990Z"/>
<path class="m" d="M1240 910H1255V945H1240Z"/>
<path class="t" d="M1232 915H1262M1232 925H1262"/>
<ellipse class="m" cx="1220" cy="975" rx="9" ry="14"/>
<ellipse class="m" cx="1278" cy="940" rx="8" ry="14"/>
</g>

<!-- ===== INSET ===== -->
<g transform="translate(620 2620) scale(.3333)">
<rect x="151" y="76" width="702" height="627" fill="#fff" stroke="#000" stroke-width="2"/>
<path class="t" d="M280 186V310M262 550L378 480M310 632L425 565"/>
<path class="b" d="M300 320Q260 320 252 365Q258 400 300 415L340 340L320 320Z"/>
<path class="t" d="M262 350L325 340M258 368L310 372M264 388L304 400"/>
<path class="b" d="M300 415Q300 350 340 335L445 385L380 430V470Z"/>
<path class="b" d="M385 265Q350 270 345 325L385 350L430 280L410 265Z"/>
<path class="t" d="M355 300L410 290M350 318L395 325"/>
<path class="b" d="M390 345Q395 290 430 280L540 330L450 385Z"/>
<path class="b" d="M490 210Q450 215 440 270L485 290L525 225Z"/>
<path class="t" d="M452 240L505 232M446 258L490 268"/>
<path class="b" d="M490 290Q490 235 525 225L635 285L545 330Z"/>
<path class="b" d="M380 430L660 265L785 335L497 497Z"/>
<path class="b" d="M380 430V540L497 607V497M497 607L785 440V335"/>
<ellipse class="m" cx="556" cy="437" rx="22" ry="14"/><ellipse class="m" cx="667" cy="292" rx="22" ry="14"/>
<ellipse class="t" cx="600" cy="480" rx="19" ry="12"/><ellipse class="t" cx="692" cy="427" rx="19" ry="12"/><ellipse class="t" cx="505" cy="534" rx="19" ry="12"/>
<ellipse class="m" cx="402" cy="467" rx="12" ry="16"/><ellipse class="m" cx="446" cy="555" rx="12" ry="16"/>
</g>

<!-- ===== LABELS ===== -->
<text class="s" x="569" y="477" textLength="214" lengthAdjust="spacingAndGlyphs">SWING MOTOR</text>
<text class="s" x="373" y="987" textLength="118" lengthAdjust="spacingAndGlyphs">CENTER</text>
<text class="s" x="389" y="1022" textLength="84" lengthAdjust="spacingAndGlyphs">JOINT</text>
<text class="s" x="829" y="1142" textLength="46" lengthAdjust="spacingAndGlyphs">Pal</text>
<text class="s" x="1248" y="991" font-size="34" textLength="37" lengthAdjust="spacingAndGlyphs">Px</text>
<text class="s" x="1336" y="1020" style="font-size:28px" textLength="33" lengthAdjust="spacingAndGlyphs">Pg</text>
<text class="s" x="1210" y="1305" textLength="244" lengthAdjust="spacingAndGlyphs">CONTROL VALVE</text>
<text class="s" x="819" y="1541" textLength="33" lengthAdjust="spacingAndGlyphs">C1</text>
<text class="s" x="569" y="1695" textLength="191" lengthAdjust="spacingAndGlyphs">SHUTTLE V/V</text>
<text class="s" x="1749" y="2485" textLength="189" lengthAdjust="spacingAndGlyphs">PILOT FILTER</text>
<text class="s" x="673" y="2895" textLength="239" lengthAdjust="spacingAndGlyphs">Serial No. 552 ~</text>
<text class="k" x="5" y="3154" textLength="75" lengthAdjust="spacingAndGlyphs">91-1</text>
<text class="k" x="2083" y="3154" textLength="114" lengthAdjust="spacingAndGlyphs">S130-3</text>
</svg>
</body></html>
